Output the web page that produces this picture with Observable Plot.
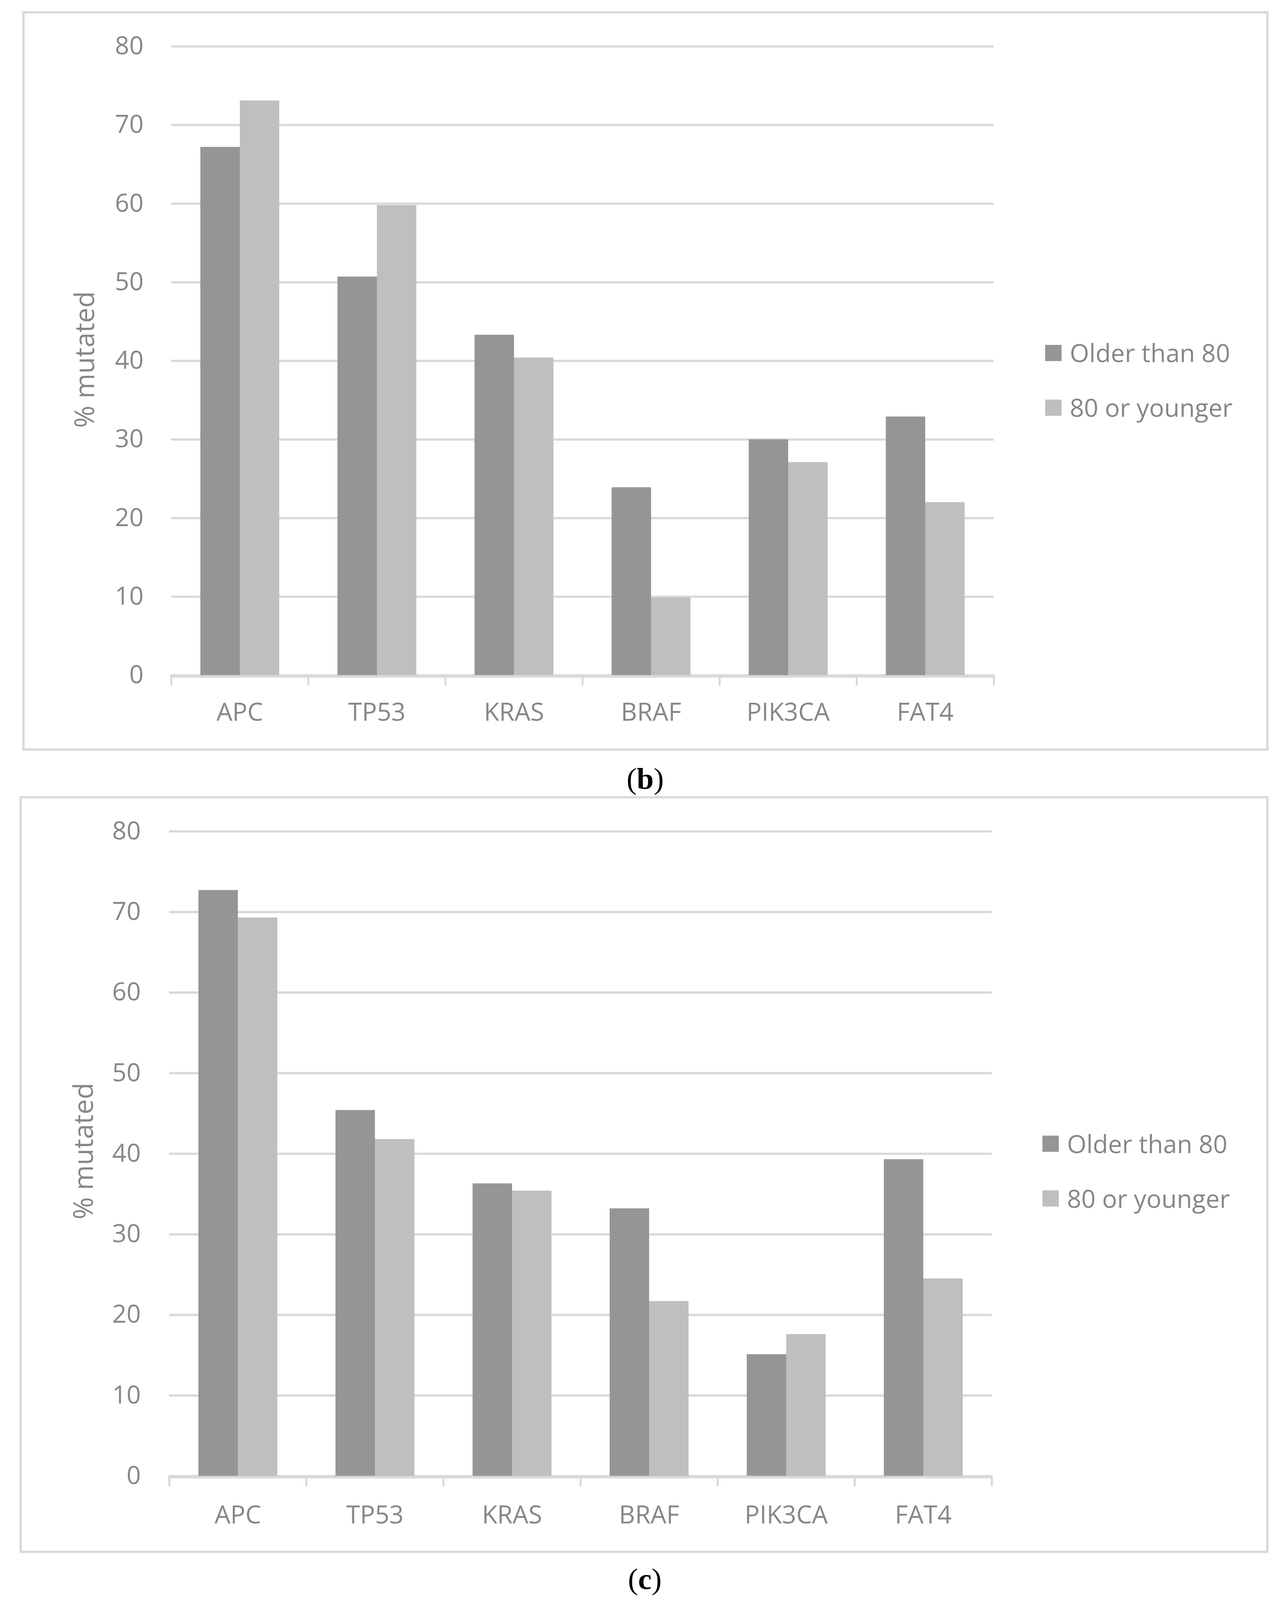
<!DOCTYPE html>
<html>
<head>
<meta charset="utf-8">
<script src="https://cdn.jsdelivr.net/npm/d3@7"></script>
<script src="https://cdn.jsdelivr.net/npm/@observablehq/plot@0.6"></script>
<style>
  html, body { margin: 0; padding: 0; background: #ffffff; overflow: hidden; }
  #root { width: 3285px; height: 4152px; position: absolute; left: 0; top: 0; overflow: hidden; transform-origin: 0 0; font-family: "Open Sans", sans-serif; background: #fff; }
  .panel { position: absolute; border: 6px solid #d9d9d9; box-sizing: border-box; }
  .chart { position: absolute; }
  .ytitle { position: absolute; color: #878787; font-size: 70px; line-height: 1; white-space: nowrap; transform: translate(-50%, -50%) rotate(-90deg); }
  .legend { position: absolute; color: #878787; font-size: 64px; line-height: 1; }
  .legend .row { display: flex; align-items: center; height: 80px; white-space: nowrap; }
  .legend .sw { width: 42px; height: 42px; margin-right: 21px; flex: none; }
  .legend .row + .row { margin-top: 62px; }
  .caption { position: absolute; font-family: "Liberation Serif", "DejaVu Serif", serif; font-size: 78px; line-height: 1; color: #000; transform: translate(-50%, -50%); white-space: nowrap; }
</style>
</head>
<body>
<div id="root"></div>
<script>
// ---- data ----
const genes = ["APC", "TP53", "KRAS", "BRAF", "PIK3CA", "FAT4"];
const seriesNames = ["Older than 80", "80 or younger"];
const olderB   = [67.2, 50.7, 43.3, 23.9, 30.0, 32.9];
const youngerB = [73.1, 59.8, 40.4,  9.9, 27.1, 22.0];
const olderC   = [72.7, 45.4, 36.3, 33.2, 15.1, 39.3];
const youngerC = [69.3, 41.8, 35.4, 21.7, 17.6, 24.5];
const yTicks = [0, 10, 20, 30, 40, 50, 60, 70, 80];
const yTitle = "% mutated";
const panelLetters = ["b", "c"];
const seriesColors = ["#959595", "#bfbfbf"];

function toRows(older, younger) {
  const rows = [];
  genes.forEach((g, i) => {
    rows.push({gene: g, series: seriesNames[0], value: older[i]});
    rows.push({gene: g, series: seriesNames[1], value: younger[i]});
  });
  return rows;
}

const root = document.getElementById("root");

const layouts = [
  {older: olderB, younger: youngerB, panel: {left: 57, top: 29, right: 3248, bottom: 1948},
   svgTop: 40, marginTop: 80, innerH: 1632, marginLeft: 436, innerW: 2110, yPad: 71, xPad: 72,
   title: {x: 214, y: 933}, legend: {left: 2676, top: 876}, caption: {x: 1652, y: 2021}},
  {older: olderC, younger: youngerC, panel: {left: 50, top: 2066, right: 3248, bottom: 4030},
   svgTop: 2080, marginTop: 77, innerH: 1673, marginLeft: 430, innerW: 2111, yPad: 73, xPad: 77,
   title: {x: 211, y: 2987}, legend: {left: 2669, top: 2928}, caption: {x: 1651, y: 4098}}
];

layouts.forEach((L, k) => {
  const p = document.createElement("div");
  p.className = "panel";
  Object.assign(p.style, {left: L.panel.left + "px", top: L.panel.top + "px",
    width: (L.panel.right - L.panel.left) + "px", height: (L.panel.bottom - L.panel.top) + "px"});
  root.appendChild(p);

  const marginBottom = 160, marginRight = 60;
  const chart = Plot.plot({
    width: L.marginLeft + L.innerW + marginRight,
    height: L.marginTop + L.innerH + marginBottom,
    marginLeft: L.marginLeft, marginRight, marginTop: L.marginTop, marginBottom,
    style: {fontFamily: "'Open Sans', sans-serif", color: "#878787", background: "transparent", maxWidth: "none", overflow: "visible"},
    fx: {domain: genes, padding: 0, label: null},
    x: {domain: seriesNames, paddingInner: 0, paddingOuter: 0.726, axis: null},
    y: {domain: [0, 80], label: null},
    color: {domain: seriesNames, range: seriesColors},
    marks: [
      Plot.gridY(yTicks, {stroke: "#d9d9d9", strokeOpacity: 1, strokeWidth: 6}),
      Plot.barY(toRows(L.older, L.younger), {fx: "gene", x: "series", y: "value", fill: "series"}),
      Plot.ruleY([0], {stroke: "#d9d9d9", strokeWidth: 6, dy: 3}),
      Plot.frame({anchor: "left", stroke: "#d9d9d9", strokeWidth: 5, insetTop: L.innerH, insetBottom: -24}),
      Plot.frame({anchor: "right", stroke: "#d9d9d9", strokeWidth: 5, insetTop: L.innerH, insetBottom: -24}),
      Plot.axisY(yTicks, {anchor: "left", tickSize: 0, tickPadding: L.yPad, fontSize: 64, label: null}),
      Plot.axisFx({anchor: "bottom", tickSize: 0, tickPadding: L.xPad, fontSize: 64, label: null})
    ]
  });
  const holder = document.createElement("div");
  holder.className = "chart";
  holder.style.left = "0px";
  holder.style.top = L.svgTop + "px";
  holder.appendChild(chart);
  root.appendChild(holder);

  const t = document.createElement("div");
  t.className = "ytitle";
  t.textContent = yTitle;
  t.style.left = L.title.x + "px";
  t.style.top = L.title.y + "px";
  root.appendChild(t);

  const lg = document.createElement("div");
  lg.className = "legend";
  lg.style.left = L.legend.left + "px";
  lg.style.top = L.legend.top + "px";
  seriesNames.forEach((s, i) => {
    const r = document.createElement("div");
    r.className = "row";
    const sw = document.createElement("span");
    sw.className = "sw";
    sw.style.background = seriesColors[i];
    const tx = document.createElement("span");
    tx.textContent = s;
    r.appendChild(sw); r.appendChild(tx);
    lg.appendChild(r);
  });
  root.appendChild(lg);

  const c = document.createElement("div");
  c.className = "caption";
  c.innerHTML = "(<b>" + panelLetters[k] + "</b>)";
  c.style.left = L.caption.x + "px";
  c.style.top = L.caption.y + "px";
  root.appendChild(c);
});

// fit the 3285x4152 page into the actual viewport if the viewport is smaller
function fit() {
  const vw = document.documentElement.clientWidth || window.innerWidth;
  const vh = document.documentElement.clientHeight || window.innerHeight;
  const sx = Math.min(1, vw / 3285), sy = Math.min(1, vh / 4152);
  root.style.transform = (sx < 1 || sy < 1) ? `scale(${sx}, ${sy})` : "none";
}
fit();
window.addEventListener("resize", fit);
</script>
</body>
</html>
